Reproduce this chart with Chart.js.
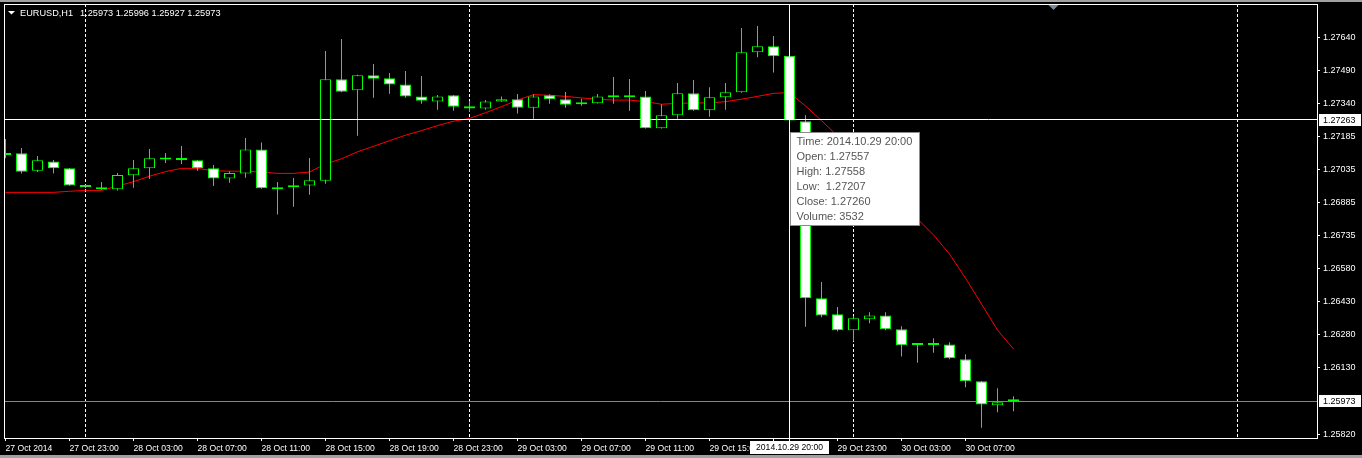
<!DOCTYPE html>
<html>
<head>
<meta charset="utf-8">
<title>EURUSD,H1</title>
<script src="https://cdn.jsdelivr.net/npm/chart.js@4.4.1/dist/chart.umd.min.js"></script>
<style>
    html, body { margin: 0; padding: 0; background: #000; overflow: hidden; }
    canvas { display: block; }
</style>
</head>
<body>
<canvas id="priceChart" width="1362" height="458"></canvas>
<script>
// EURUSD H1, 27 Oct 2014 19:00 .. 30 Oct 2014 10:00 (one entry per hourly bar)
const symbolTitle = 'EURUSD,H1';

const opens = [
    1.27102, 1.27110, 1.27030, 1.27073, 1.27041, 1.26965, 1.26954, 1.26945, 1.27009, 1.27041,
    1.27084, 1.27080, 1.27078, 1.27041, 1.26994, 1.27017, 1.27128, 1.26954, 1.26963, 1.26962,
    1.26984, 1.27449, 1.27399, 1.27468, 1.27454, 1.27426, 1.27371, 1.27347, 1.27376, 1.27326,
    1.27315, 1.27347, 1.27358, 1.27319, 1.27376, 1.27358, 1.27337, 1.27339, 1.27369, 1.27367,
    1.27371, 1.27225, 1.27284, 1.27385, 1.27307, 1.27367, 1.27390, 1.27573, 1.27601, 1.27557,
    1.27257, 1.26445, 1.26372, 1.26299, 1.26349, 1.26367, 1.26303, 1.26233, 1.26231, 1.26234,
    1.26166, 1.26065, 1.25955, 1.25973
];
const highs = [
    1.27176, 1.27134, 1.27098, 1.27079, 1.27043, 1.26966, 1.26978, 1.27020, 1.27079, 1.27130,
    1.27111, 1.27144, 1.27079, 1.27056, 1.27028, 1.27180, 1.27160, 1.26978, 1.26997, 1.27089,
    1.27579, 1.27634, 1.27470, 1.27519, 1.27478, 1.27487, 1.27464, 1.27377, 1.27377, 1.27350,
    1.27354, 1.27371, 1.27382, 1.27381, 1.27381, 1.27391, 1.27360, 1.27382, 1.27460, 1.27451,
    1.27396, 1.27335, 1.27432, 1.27446, 1.27413, 1.27432, 1.27684, 1.27694, 1.27648, 1.27558,
    1.27284, 1.26520, 1.26405, 1.26363, 1.26381, 1.26381, 1.26317, 1.26233, 1.26262, 1.26244,
    1.26189, 1.26066, 1.26033, 1.25996
];
const lows = [
    1.27087, 1.27017, 1.27024, 1.27017, 1.26961, 1.26951, 1.26942, 1.26939, 1.26952, 1.26992,
    1.27066, 1.27061, 1.27030, 1.26960, 1.26975, 1.26998, 1.26948, 1.26829, 1.26865, 1.26920,
    1.26971, 1.27390, 1.27191, 1.27365, 1.27383, 1.27365, 1.27337, 1.27310, 1.27305, 1.27299,
    1.27310, 1.27346, 1.27292, 1.27269, 1.27337, 1.27319, 1.27328, 1.27338, 1.27337, 1.27305,
    1.27224, 1.27224, 1.27269, 1.27305, 1.27278, 1.27310, 1.27388, 1.27550, 1.27480, 1.27207,
    1.26315, 1.26358, 1.26294, 1.26248, 1.26331, 1.26299, 1.26179, 1.26150, 1.26196, 1.26166,
    1.26037, 1.25852, 1.25923, 1.25927
];
const closes = [
    1.27109, 1.27026, 1.27078, 1.27041, 1.26963, 1.26954, 1.26945, 1.27011, 1.27041, 1.27087,
    1.27082, 1.27079, 1.27041, 1.26994, 1.27020, 1.27128, 1.26950, 1.26945, 1.26954, 1.26986,
    1.27449, 1.27392, 1.27468, 1.27452, 1.27425, 1.27370, 1.27351, 1.27371, 1.27324, 1.27315,
    1.27348, 1.27358, 1.27319, 1.27371, 1.27358, 1.27333, 1.27335, 1.27371, 1.27367, 1.27369,
    1.27225, 1.27284, 1.27385, 1.27307, 1.27367, 1.27390, 1.27573, 1.27601, 1.27555, 1.27260,
    1.26445, 1.26367, 1.26299, 1.26354, 1.26367, 1.26303, 1.26230, 1.26231, 1.26233, 1.26170,
    1.26065, 1.25959, 1.25969, 1.25973
];
const movingAverage = [
    1.26931, 1.26931, 1.26931, 1.26931, 1.26936, 1.26940, 1.26940, 1.26960, 1.26980, 1.27005,
    1.27026, 1.27041, 1.27041, 1.27030, 1.27028, 1.27028, 1.27024, 1.27018, 1.27018, 1.27024,
    1.27061, 1.27085, 1.27117, 1.27142, 1.27168, 1.27193, 1.27214, 1.27237, 1.27257, 1.27270,
    1.27296, 1.27324, 1.27354, 1.27379, 1.27376, 1.27371, 1.27364, 1.27358, 1.27354, 1.27354,
    1.27347, 1.27335, 1.27339, 1.27341, 1.27341, 1.27347, 1.27358, 1.27371, 1.27385, 1.27388,
    1.27327, 1.27260, 1.27189, 1.27121, 1.27047, 1.26978, 1.26901, 1.26809, 1.26736, 1.26648,
    1.26538, 1.26419, 1.26300, 1.26213
];

const xTickIndexes = [0, 4, 8, 12, 16, 20, 24, 28, 32, 36, 40, 44, 48, 52, 56, 60];
const xTickLabels = [
    '27 Oct 2014', '27 Oct 23:00', '28 Oct 03:00', '28 Oct 07:00', '28 Oct 11:00',
    '28 Oct 15:00', '28 Oct 19:00', '28 Oct 23:00', '29 Oct 03:00', '29 Oct 07:00',
    '29 Oct 11:00', '29 Oct 15:00', '29 Oct 19:00', '29 Oct 23:00', '30 Oct 03:00',
    '30 Oct 07:00'
];
const yTickValues = [
    1.27640, 1.27490, 1.27340, 1.27185, 1.27035, 1.26885, 1.26735,
    1.26580, 1.26430, 1.26280, 1.26130, 1.25820
];
const daySeparators = [5, 29, 53, 77];

const crossIndex = 49;
const crossPrice = 1.27263;
const crossTimeLabel = '2014.10.29 20:00';
const crossVolume = 3532;
const bidPrice = 1.25973;
const shiftMarkerIndex = 65.5;

const LABEL_FONT = '"Liberation Sans", Arial, sans-serif';

document.addEventListener('DOMContentLoaded', function() {
    initPriceChart();
});

function fmt(v) {
    return v.toFixed(5);
}

const terminalOverlay = {
    id: 'terminalOverlay',
    beforeDraw(chart) {
        const { ctx, width, height } = chart;
        ctx.save();
        ctx.fillStyle = '#000';
        ctx.fillRect(0, 0, width, height);
        ctx.fillStyle = '#a0a0a0';
        ctx.fillRect(0, 0, width, 2);
        ctx.fillRect(0, height - 3, width, 3);
        ctx.restore();
    },
    beforeDatasetsDraw(chart) {
        const { ctx, chartArea: a, scales: { x, y } } = chart;
        ctx.save();
        ctx.lineWidth = 1;

        // period separators
        ctx.strokeStyle = '#fff';
        ctx.setLineDash([3, 2]);
        daySeparators.forEach(i => {
            const px = Math.floor(x.getPixelForValue(i)) + 0.5;
            ctx.beginPath();
            ctx.moveTo(px, a.top);
            ctx.lineTo(px, a.bottom);
            ctx.stroke();
        });
        ctx.setLineDash([]);

        // bid line
        const by = Math.floor(y.getPixelForValue(bidPrice)) + 0.5;
        ctx.strokeStyle = '#778899';
        ctx.beginPath();
        ctx.moveTo(a.left, by);
        ctx.lineTo(a.right, by);
        ctx.stroke();
        ctx.restore();
    },
    afterDraw(chart) {
        const { ctx, chartArea: a, scales: { x, y }, width } = chart;
        ctx.save();
        ctx.lineWidth = 1;

        // frame
        ctx.strokeStyle = '#fff';
        ctx.strokeRect(a.left + 0.5, a.top + 0.5, a.right - a.left, a.bottom - a.top);

        // crosshair
        const cx = Math.floor(x.getPixelForValue(crossIndex)) + 0.5;
        const cy = Math.floor(y.getPixelForValue(crossPrice)) + 0.5;
        ctx.beginPath();
        ctx.moveTo(a.left, cy);
        ctx.lineTo(a.right, cy);
        ctx.moveTo(cx, a.top);
        ctx.lineTo(cx, a.bottom + 3);
        ctx.stroke();

        // chart shift marker
        const sx = x.getPixelForValue(shiftMarkerIndex);
        ctx.fillStyle = '#778899';
        ctx.beginPath();
        ctx.moveTo(sx - 5, a.top + 1);
        ctx.lineTo(sx + 5, a.top + 1);
        ctx.lineTo(sx, a.top + 6);
        ctx.closePath();
        ctx.fill();

        // title
        ctx.fillStyle = '#fff';
        ctx.beginPath();
        ctx.moveTo(8, 11);
        ctx.lineTo(15, 11);
        ctx.lineTo(11.5, 14.5);
        ctx.closePath();
        ctx.fill();
        const last = opens.length - 1;
        ctx.font = '9.2px ' + LABEL_FONT;
        ctx.textBaseline = 'middle';
        ctx.textAlign = 'left';
        ctx.fillText(symbolTitle, 20, 13);
        ctx.fillText([opens[last], highs[last], lows[last], closes[last]].map(fmt).join(' '), 80, 13);

        // price labels on the axis
        ctx.font = '9px ' + LABEL_FONT;
        [crossPrice, bidPrice].forEach(p => {
            const py = Math.round(y.getPixelForValue(p));
            ctx.fillStyle = '#fff';
            ctx.fillRect(a.right + 2, py - 6, width - a.right - 3, 12);
            ctx.fillStyle = '#000';
            ctx.fillText(fmt(p), a.right + 6, py + 0.5);
        });

        // time label under the crosshair
        ctx.font = '8.6px ' + LABEL_FONT;
        ctx.fillStyle = '#fff';
        ctx.fillRect(cx - 39.5, a.bottom + 3, 79, 13);
        ctx.fillStyle = '#000';
        ctx.textAlign = 'center';
        ctx.fillText(crossTimeLabel, cx, a.bottom + 10);

        // data window tooltip
        const tipLines = [
            'Time: ' + crossTimeLabel,
            'Open: ' + fmt(opens[crossIndex]),
            'High: ' + fmt(highs[crossIndex]),
            'Low:  ' + fmt(lows[crossIndex]),
            'Close: ' + fmt(closes[crossIndex]),
            'Volume: ' + crossVolume
        ];
        const tx = cx + 1;
        const ty = cy + 13;
        ctx.fillStyle = '#fff';
        ctx.fillRect(tx, ty, 129, 93);
        ctx.strokeStyle = '#8c8c8c';
        ctx.strokeRect(tx, ty, 129, 93);
        ctx.font = '11px ' + LABEL_FONT;
        ctx.fillStyle = '#555';
        ctx.textAlign = 'left';
        tipLines.forEach((line, i) => {
            ctx.fillText(line, tx + 6, ty + 9.5 + i * 15);
        });
        ctx.restore();
    }
};

function initPriceChart() {
    const ctx = document.getElementById('priceChart');
    if (!ctx) return;

    const idx = opens.map((_, i) => i);
    const bodyColors = idx.map(i => closes[i] < opens[i] ? '#ffffff' : '#000000');

    window.priceChart = new Chart(ctx, {
        type: 'bar',
        data: {
            datasets: [{
                type: 'line',
                label: 'MA',
                data: idx.map(i => ({ x: i, y: movingAverage[i] })),
                borderColor: '#ff0000',
                borderWidth: 1,
                pointRadius: 0,
                tension: 0,
                order: 3
            }, {
                label: 'wick',
                data: idx.map(i => ({ x: i, y: [lows[i], highs[i]] })),
                backgroundColor: '#00ff00',
                borderWidth: 0,
                barThickness: 1,
                inflateAmount: 0,
                grouped: false,
                order: 2
            }, {
                label: 'body',
                data: idx.map(i => ({ x: i, y: [opens[i], closes[i]] })),
                backgroundColor: bodyColors,
                borderColor: '#00ff00',
                borderWidth: 1,
                borderSkipped: false,
                barThickness: 11,
                minBarLength: 2,
                inflateAmount: 0,
                grouped: false,
                order: 1
            }]
        },
        options: {
            responsive: false,
            animation: false,
            devicePixelRatio: 1,
            layout: {
                padding: { top: 4, left: 4, right: 0, bottom: 0 }
            },
            plugins: {
                legend: { display: false },
                tooltip: { enabled: false }
            },
            scales: {
                x: {
                    type: 'linear',
                    min: -0.09375,
                    max: 81.96875,
                    offset: false,
                    afterBuildTicks: function(scale) {
                        scale.ticks = xTickIndexes.map(v => ({ value: v }));
                    },
                    afterFit: function(scale) {
                        scale.height = 20;
                        scale.paddingLeft = 0;
                        scale.paddingRight = 0;
                    },
                    grid: {
                        offset: false,
                        drawOnChartArea: false,
                        color: '#ffffff',
                        tickLength: 3
                    },
                    border: { display: false },
                    ticks: {
                        autoSkip: false,
                        maxRotation: 0,
                        minRotation: 0,
                        align: 'start',
                        padding: 2,
                        color: '#ffffff',
                        font: { family: LABEL_FONT, size: 8.6 },
                        callback: function(value, index) {
                            return xTickLabels[index];
                        }
                    }
                },
                y: {
                    position: 'right',
                    min: 1.258049,
                    max: 1.277945,
                    afterBuildTicks: function(scale) {
                        scale.ticks = yTickValues.map(v => ({ value: v }));
                    },
                    afterFit: function(scale) {
                        scale.width = 45;
                        scale.paddingTop = 0;
                        scale.paddingBottom = 0;
                    },
                    grid: {
                        drawOnChartArea: false,
                        color: '#ffffff',
                        tickLength: 3
                    },
                    border: { display: false },
                    ticks: {
                        autoSkip: false,
                        padding: 3,
                        color: '#ffffff',
                        font: { family: LABEL_FONT, size: 9 },
                        callback: function(value) {
                            return fmt(value);
                        }
                    }
                }
            }
        },
        plugins: [terminalOverlay]
    });
}
</script>
</body>
</html>
